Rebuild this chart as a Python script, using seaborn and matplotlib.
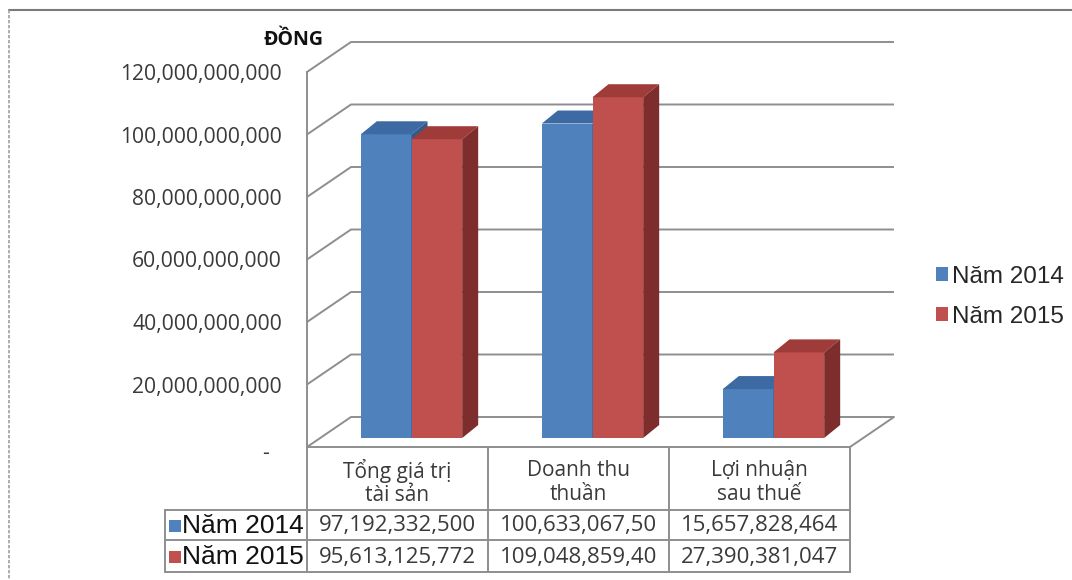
import numpy as np
import pandas as pd
import matplotlib
matplotlib.use("Agg")
import matplotlib.pyplot as plt
import matplotlib.transforms as mtransforms
from matplotlib.lines import Line2D
from matplotlib.patches import Polygon, Rectangle, Patch
from matplotlib.ticker import FuncFormatter
import seaborn as sns

# ---- data -------------------------------------------------------------
categories = ["Tổng giá trị\ntài sản", "Doanh thu\nthuần", "Lợi nhuận\nsau thuế"]
series_names = ["Năm 2014", "Năm 2015"]
values_2014 = [97_192_332_500, 100_633_067_500, 15_657_828_464]
values_2015 = [95_613_125_772, 109_048_859_400, 27_390_381_047]
y_ticks = [0, 20e9, 40e9, 60e9, 80e9, 100e9, 120e9]
unit_label = "ĐỒNG"

# ---- style ------------------------------------------------------------
BLUE_FRONT, BLUE_TOP, BLUE_SIDE = "#4F81BD", "#3D6AA2", "#365A88"
RED_FRONT, RED_TOP, RED_SIDE = "#C0504D", "#9F3B38", "#7D2E2C"
GRID = "#8E8E8E"
TEXT = "#3A3A3A"

W_PX, H_PX, DPI = 1072, 580, 100

sns.set_style("white")
plt.rcParams["font.family"] = ["Open Sans", "DejaVu Sans"]
LEGEND_FONT = ["Liberation Sans", "DejaVu Sans"]

fig = plt.figure(figsize=(W_PX / DPI, H_PX / DPI), dpi=DPI)
fig.patch.set_facecolor("white")


def fx(px):
    return px / W_PX


def fy(py):
    return 1 - py / H_PX


# front plane of the plot box: value 0 on the floor edge, 120 bn at the top
ax = fig.add_axes([fx(307), fy(447), fx(850) - fx(307), fy(72) - fy(447)])
ax.set_facecolor("none")

df = pd.DataFrame({
    "category": categories * 2,
    "series": [series_names[0]] * 3 + [series_names[1]] * 3,
    "value": values_2014 + values_2015,
})

sns.barplot(data=df, x="category", y="value", hue="series",
            order=categories, hue_order=series_names,
            palette=[BLUE_FRONT, RED_FRONT], width=0.56, saturation=1,
            errorbar=None, legend=False, linewidth=0, ax=ax)

ax.set_xlim(-0.5, len(categories) - 0.5)
ax.set_ylim(y_ticks[0], y_ticks[-1])
ax.set_yticks(y_ticks)
ax.yaxis.set_major_formatter(FuncFormatter(lambda v, p: "-" if v == 0 else f"{v:,.0f}"))
ax.tick_params(axis="y", length=7, width=1.4, color=GRID, pad=11,
               labelsize=15.2, labelcolor=TEXT)
ax.tick_params(axis="x", bottom=False, labelbottom=False)
ax.set_xlabel("")
ax.set_ylabel("")
for side in ["top", "right", "bottom"]:
    ax.spines[side].set_visible(False)
ax.spines["left"].set_color(GRID)
ax.spines["left"].set_linewidth(1.4)
ax.spines["left"].set_zorder(0.5)

# accounting-style dash for zero sits left of the number column
zero_label = ax.yaxis.get_major_ticks()[0].label1
zero_label.set_transform(zero_label.get_transform()
                         + mtransforms.Affine2D().translate(-13, -4))

# ---- 3-D box: walls, floor, gridlines ----------------------------------
WALL_DX, WALL_DY = 44, 30        # depth of the box (pixels)
BAR_FX, BAR_FY = 14, 9           # bar front plane inside the box
BAR_DX, BAR_DY = 16, 13          # bar depth
ident = mtransforms.IdentityTransform()
x_lo, x_hi = ax.get_xlim()

for v in y_ticks:
    p0 = ax.transData.transform((x_lo, v))
    p1 = p0 + (WALL_DX, WALL_DY)
    p2 = ax.transData.transform((x_hi, v)) + (WALL_DX, WALL_DY)
    ax.add_line(Line2D([p0[0], p1[0], p2[0]], [p0[1], p1[1], p2[1]],
                       transform=ident, color=GRID, lw=1.4, zorder=0.4,
                       clip_on=False, solid_capstyle="butt"))

# floor front edge and right edge
f0 = ax.transData.transform((x_lo, 0))
f1 = ax.transData.transform((x_hi, 0))
f2 = f1 + (WALL_DX, WALL_DY)
ax.add_line(Line2D([f0[0], f1[0], f2[0]], [f0[1], f1[1], f2[1]],
                   transform=ident, color=GRID, lw=1.4, zorder=0.4, clip_on=False))

# ---- 3-D bars ------------------------------------------------------------
front_tr = ax.transData + mtransforms.Affine2D().translate(BAR_FX, BAR_FY)
shades = [(BLUE_TOP, BLUE_SIDE), (RED_TOP, RED_SIDE)]
for s_idx, container in enumerate(ax.containers):
    top_c, side_c = shades[s_idx]
    for c_idx, bar in enumerate(container.patches):
        z = 3 + c_idx + s_idx * 0.3
        bar.set_transform(front_tr)
        bar.set_zorder(z)
        bar.set_clip_on(False)
        x0, x1 = bar.get_x(), bar.get_x() + bar.get_width()
        h = bar.get_height()
        tl = ax.transData.transform((x0, h)) + (BAR_FX, BAR_FY)
        tr = ax.transData.transform((x1, h)) + (BAR_FX, BAR_FY)
        br = ax.transData.transform((x1, 0)) + (BAR_FX, BAR_FY)
        d = np.array([BAR_DX, BAR_DY])
        ax.add_patch(Polygon([tl, tr, tr + d, tl + d], closed=True,
                             facecolor=top_c, edgecolor="none",
                             transform=ident, zorder=z + 0.1, clip_on=False))
        ax.add_patch(Polygon([br, tr, tr + d, br + d], closed=True,
                             facecolor=side_c, edgecolor="none",
                             transform=ident, zorder=z + 0.2, clip_on=False))

# ---- unit label ----------------------------------------------------------
fig.text(fx(294), fy(40), unit_label, ha="center", va="center",
         fontsize=14, fontweight="bold", color="#111111")

# ---- data table ------------------------------------------------------------
tab_tr = mtransforms.blended_transform_factory(ax.transData, fig.transFigure)
px_per_unit = ax.bbox.width / (x_hi - x_lo)
label_left = x_lo - (307 - 165) / px_per_unit
row_bottoms = [510, 540, 572]
row_centres = [526, 557]

tl_kw = dict(transform=tab_tr, color=GRID, lw=1.4, clip_on=False, zorder=0.4)
for yb in row_bottoms:
    ax.add_line(Line2D([label_left, x_hi], [fy(yb), fy(yb)], **tl_kw))
for xb in np.arange(x_lo, x_hi + 0.01, 1.0):
    ax.add_line(Line2D([xb, xb], [fy(447), fy(572)], **tl_kw))
ax.add_line(Line2D([label_left, label_left], [fy(510), fy(572)], **tl_kw))


def cell_text(v, max_chars=14):
    s = f"{v:,}"
    return s[:max_chars]


for i, cat in enumerate(categories):
    ax.text(i, fy(482.5), cat, transform=tab_tr, ha="center", va="center",
            fontsize=15, color=TEXT, linespacing=1.14, clip_on=False)
    for r, vals in enumerate([values_2014, values_2015]):
        ax.text(i, fy(row_centres[r]), cell_text(vals[i]), transform=tab_tr,
                ha="center", va="center", fontsize=16, color=TEXT, clip_on=False)

for r, (name, col) in enumerate(zip(series_names, [BLUE_FRONT, RED_FRONT])):
    yc = row_centres[r]
    fig.add_artist(Rectangle((fx(169), fy(yc + 6)), fx(12), 12 / H_PX,
                             transform=fig.transFigure, facecolor=col, edgecolor="none"))
    fig.text(fx(182), fy(yc), name, ha="left", va="center",
             fontsize=19, family=LEGEND_FONT, color="#111111")

# ---- legend ----------------------------------------------------------------
handles = [Patch(facecolor=BLUE_FRONT, edgecolor="none"),
           Patch(facecolor=RED_FRONT, edgecolor="none")]
fig.legend(handles, series_names, loc="center left",
           bbox_to_anchor=(fx(936), fy(297)), frameon=False,
           prop={"family": LEGEND_FONT, "size": 17.5},
           handlelength=0.5, handleheight=0.5, handletextpad=0.15,
           labelspacing=0.74, borderpad=0, borderaxespad=0)

# ---- outer frame -------------------------------------------------------------
fig.add_artist(Line2D([fx(9), 1.0], [fy(10), fy(10)], transform=fig.transFigure,
                      color="#7A7A7A", lw=1.5))
fig.add_artist(Line2D([fx(9), fx(9)], [fy(10), 0.0], transform=fig.transFigure,
                      color="#A0A0A0", lw=1.2, linestyle=(0, (2, 1))))

fig.savefig("out.png", dpi=DPI)
